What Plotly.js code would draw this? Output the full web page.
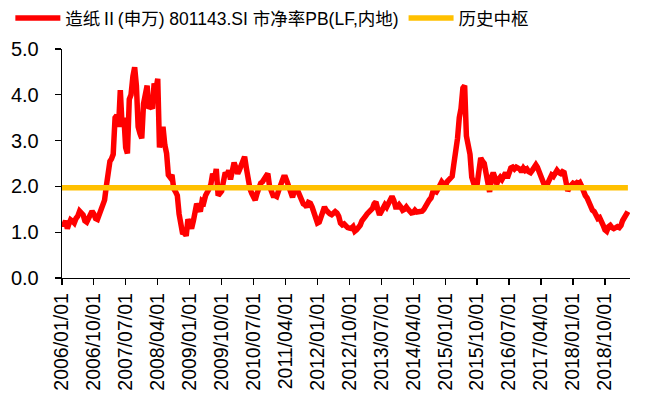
<!DOCTYPE html>
<html>
<head>
<meta charset="utf-8">
<script src="https://cdn.plot.ly/plotly-3.0.1.min.js"></script>
<style>
html,body{margin:0;padding:0;background:#fff;}
#chart{width:647px;height:403px;}
</style>
</head>
<body>
<div id="chart"></div>
<script>
// Semi-monthly PB readings (1st and 16th of each month)
const pb2006 = [1.20,1.15,1.25,1.08,1.18,1.27,1.24,1.20,1.30,1.35,1.46,1.40,1.38,1.25,1.22,1.30,1.40,1.46,1.40,1.30,1.28,1.38,1.52,1.55];
const pb2007 = [1.70,2.00,2.35,2.55,2.60,2.70,3.50,3.55,3.30,4.10,3.30,3.50,2.85,2.72,3.90,4.00,4.40,4.60,4.20,3.30,3.15,3.05,3.80,4.00];
const pb2008 = [4.20,3.70,3.75,3.70,4.25,4.10,4.35,2.85,3.15,3.30,2.90,2.72,2.25,2.20,2.25,1.95,1.88,1.80,1.40,1.15,0.96,1.00,0.92,1.28];
const pb2009 = [1.12,1.08,1.25,1.55,1.62,1.55,1.45,1.68,1.65,1.80,1.92,1.95,2.05,2.28,2.15,2.38,1.80,1.85,1.90,2.10,2.30,2.25,2.35,2.15];
const pb2010 = [2.45,2.52,2.40,2.28,2.35,2.45,2.55,2.65,2.40,2.07,1.95,1.85,1.75,1.70,1.85,2.00,2.07,2.10,2.15,2.20,2.28,2.00,1.85,1.80];
const pb2011 = [1.80,1.78,1.90,2.07,2.10,2.20,2.20,2.10,1.95,1.80,1.76,1.90,1.98,1.90,1.80,1.65,1.62,1.60,1.55,1.65,1.63,1.55,1.40,1.25];
const pb2012 = [1.20,1.22,1.35,1.48,1.55,1.48,1.42,1.40,1.38,1.42,1.45,1.42,1.35,1.20,1.16,1.18,1.12,1.10,1.09,1.08,1.12,1.02,1.05,1.10];
const pb2013 = [1.15,1.25,1.33,1.35,1.40,1.44,1.48,1.52,1.62,1.66,1.50,1.38,1.45,1.55,1.60,1.55,1.62,1.70,1.78,1.70,1.55,1.55,1.60,1.55];
const pb2014 = [1.48,1.50,1.55,1.50,1.46,1.42,1.43,1.48,1.44,1.44,1.45,1.46,1.50,1.58,1.66,1.70,1.75,1.88,1.90,1.88,1.95,2.07,2.10,2.05];
const pb2015 = [2.00,2.10,2.15,2.18,2.22,2.50,2.75,3.05,3.50,3.70,4.15,4.20,3.10,2.85,2.70,2.20,2.10,1.95,2.05,2.45,2.62,2.55,2.50,2.30];
const pb2016 = [2.00,1.88,2.20,2.30,2.20,2.05,2.15,2.20,2.15,2.25,2.30,2.18,2.30,2.40,2.42,2.38,2.42,2.40,2.38,2.32,2.40,2.35,2.38,2.32];
const pb2017 = [2.30,2.35,2.42,2.47,2.42,2.32,2.15,2.05,2.02,2.00,2.10,2.20,2.25,2.22,2.28,2.35,2.30,2.28,2.32,2.30,2.10,1.90,1.98,2.05];
const pb2018 = [2.07,2.05,2.08,2.05,2.08,2.00,1.85,1.80,1.75,1.65,1.60,1.48,1.45,1.38,1.30,1.32,1.25,1.15,1.05,1.02,1.12,1.15,1.10,1.08];
const pb2019 = [1.10,1.12,1.10,1.15,1.25,1.30,1.40,1.45];

const seriesByYear = [[2006,pb2006],[2007,pb2007],[2008,pb2008],[2009,pb2009],[2010,pb2010],[2011,pb2011],[2012,pb2012],[2013,pb2013],[2014,pb2014],[2015,pb2015],[2016,pb2016],[2017,pb2017],[2018,pb2018],[2019,pb2019]];

const medianPB = 1.97;
const medianSpan = ['2006-01-01', '2019-04-16'];

const tickDates = ['2006-01-01','2006-10-01','2007-07-01','2008-04-01','2009-01-01','2009-10-01','2010-07-01','2011-04-01','2012-01-01','2012-10-01','2013-07-01','2014-04-01','2015-01-01','2015-10-01','2016-07-01','2017-04-01','2018-01-01','2018-10-01'];
const tickLabels = tickDates.map(d => d.replace(/-/g, '/'));

const seriesName = '造纸Ⅱ(申万) 801143.SI 市净率PB(LF,内地)';
const medianName = '历史中枢';

// build date index
const xs = [], ys = [];
seriesByYear.forEach(([yr, arr]) => {
  arr.forEach((v, k) => {
    const m = String(Math.floor(k / 2) + 1).padStart(2, '0');
    const d = k % 2 ? '16' : '01';
    xs.push(yr + '-' + m + '-' + d);
    ys.push(v);
  });
});

const FONT = 'Liberation Sans, Arial, Noto Sans CJK SC, sans-serif';

const traces = [
  {x: xs, y: ys, type: 'scatter', mode: 'lines', name: seriesName,
   line: {color: '#FF0000', width: 5.5}},
  {x: medianSpan, y: [medianPB, medianPB], type: 'scatter', mode: 'lines', name: medianName,
   line: {color: '#FFC000', width: 5.5}}
];

const layout = {
  width: 647, height: 403,
  margin: {l: 62, r: 17, t: 49, b: 125},
  paper_bgcolor: '#ffffff', plot_bgcolor: '#ffffff',
  font: {family: FONT, color: '#000000', size: 17},
  showlegend: true,
  legend: {orientation: 'h', xref: 'container', x: 0.016, xanchor: 'left', yref: 'container', y: 1, yanchor: 'top',
           font: {family: FONT, size: 17.5, color: '#000'}, itemwidth: 45, bgcolor: 'rgba(0,0,0,0)', tracegroupgap: 0,
           entrywidthmode: 'pixels'},
  xaxis: {type: 'date', range: ['2006-01-01', '2019-05-04'], tickmode: 'array', tickvals: tickDates, ticktext: tickLabels,
          tickangle: -90, ticks: 'outside', ticklen: 6, tickwidth: 1.3, tickcolor: '#000',
          showline: true, linecolor: '#000', linewidth: 1.3, showgrid: false, zeroline: false,
          tickfont: {family: FONT, size: 19.5, color: '#000'}, fixedrange: true},
  yaxis: {range: [0, 5], dtick: 1, tick0: 0, tickformat: '.1f', ticks: 'outside', ticklen: 6, tickwidth: 1.3, tickcolor: '#000',
          showline: true, linecolor: '#000', linewidth: 1.3, showgrid: false, zeroline: false, ticklabelstandoff: 12,
          tickfont: {family: FONT, size: 20, color: '#000'}, fixedrange: true}
};

Plotly.newPlot('chart', traces, layout, {staticPlot: true, displayModeBar: false});
</script>
</body>
</html>
